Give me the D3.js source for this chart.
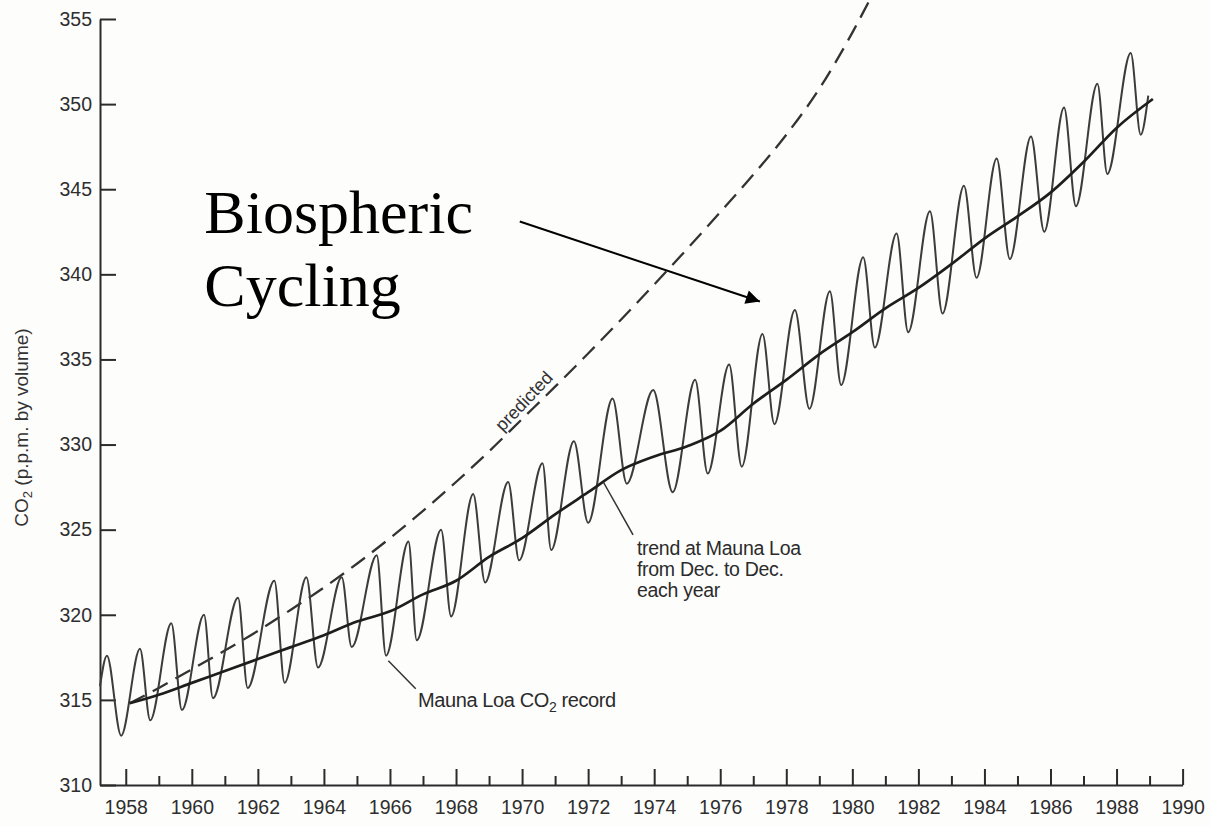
<!DOCTYPE html>
<html>
<head>
<meta charset="utf-8">
<script src="https://cdn.jsdelivr.net/npm/d3@7"></script>
<style>
  html, body { margin: 0; padding: 0; background: #fdfdfc; }
  svg { display: block; }
</style>
</head>
<body>
<svg id="chart" width="1211" height="826"></svg>
<script>
// Mauna Loa monthly CO2 record: opening point, then alternating seasonal maxima / minima, then closing point
const recordYears = [
  1957.22, 1957.43, 1957.86, 1958.43, 1958.74, 1959.38, 1959.70, 1960.37, 1960.64,
  1961.40, 1961.69, 1962.50, 1962.81, 1963.47, 1963.82, 1964.54, 1964.84,
  1965.60, 1965.88, 1966.56, 1966.81, 1967.55, 1967.85, 1968.52, 1968.88,
  1969.58, 1969.91, 1970.62, 1970.88, 1971.57, 1972.00, 1972.74, 1973.17,
  1973.97, 1974.56, 1975.24, 1975.62, 1976.27, 1976.65, 1977.28, 1977.64,
  1978.26, 1978.70, 1979.32, 1979.66, 1980.33, 1980.68, 1981.34, 1981.69,
  1982.35, 1982.73, 1983.38, 1983.76, 1984.37, 1984.77, 1985.41, 1985.81,
  1986.41, 1986.77, 1987.42, 1987.72, 1988.43, 1988.73, 1988.96
];
const recordCO2 = [
  315.8, 317.6, 312.9, 318.0, 313.8, 319.5, 314.4, 320.0, 315.1,
  321.0, 315.7, 322.0, 316.0, 322.2, 316.9, 322.2, 318.1,
  323.5, 317.6, 324.3, 318.5, 325.0, 319.9, 327.1, 321.9,
  327.8, 323.2, 328.9, 323.8, 330.2, 325.4, 332.7, 327.7,
  333.2, 327.2, 333.8, 328.3, 334.7, 328.7, 336.5, 331.2,
  337.9, 332.1, 339.0, 333.5, 341.0, 335.7, 342.4, 336.6,
  343.7, 337.7, 345.2, 339.8, 346.8, 340.9, 348.1, 342.5,
  349.8, 344.0, 351.2, 345.9, 353.0, 348.2, 350.5
];

// December-to-December trend
const trendYears = [
  1958.12, 1959, 1960, 1961, 1962, 1963, 1964, 1965, 1966, 1967, 1968, 1969,
  1970, 1971, 1972, 1973, 1974, 1975, 1976, 1977, 1978, 1979, 1980, 1981,
  1982, 1983, 1984, 1985, 1986, 1987, 1988, 1989.1
];
const trendCO2 = [
  314.8, 315.3, 316.0, 316.7, 317.4, 318.1, 318.8, 319.6, 320.2, 321.2, 322.0, 323.4,
  324.5, 325.9, 327.2, 328.5, 329.3, 329.9, 330.8, 332.4, 333.8, 335.3, 336.6, 338.0,
  339.2, 340.6, 342.1, 343.4, 344.8, 346.6, 348.6, 350.3
];

// Predicted concentration (dashed)
const predictedYears = [
  1958.12, 1959, 1960, 1961, 1962, 1963, 1964, 1965, 1966, 1967, 1968, 1969,
  1970, 1971, 1972, 1973, 1974, 1975, 1976, 1977, 1978, 1979, 1980, 1980.6
];
const predictedCO2 = [
  314.8, 315.7, 316.8, 317.9, 319.05, 320.3, 321.6, 323.0, 324.5, 326.1, 327.8, 329.6,
  331.5, 333.4, 335.35, 337.35, 339.4, 341.5, 343.65, 345.85, 348.2, 350.9, 354.2, 356.4
];

const majorYears = [1958, 1960, 1962, 1964, 1966, 1968, 1970, 1972, 1974,
                    1976, 1978, 1980, 1982, 1984, 1986, 1988, 1990];
const minorYears = [1959, 1961, 1963, 1965, 1967, 1969, 1971, 1973,
                    1975, 1977, 1979, 1981, 1983, 1985, 1987, 1989];
const co2Ticks = [310, 315, 320, 325, 330, 335, 340, 345, 350, 355];

const svg = d3.select("#chart");
const ink = "#2b2b2b";
const sans = "'Liberation Sans', Arial, Helvetica, sans-serif";

const x = d3.scaleLinear().domain([1957.22, 1990]).range([100, 1182.6]);
const y = d3.scaleLinear().domain([310, 355]).range([785, 19]);

// ---- axes ----
const yAxis = d3.axisLeft(y).tickValues(co2Ticks).tickSizeInner(-16).tickSizeOuter(0).tickPadding(8);
const gy = svg.append("g").attr("transform", `translate(${x.range()[0]},0)`).call(yAxis);

const xAxis = d3.axisBottom(x).tickValues(majorYears).tickFormat(d3.format("d"))
  .tickSizeInner(-16).tickSizeOuter(0).tickPadding(15);
const gx = svg.append("g").attr("transform", `translate(0,${y(310)})`).call(xAxis);

const xMinor = d3.axisBottom(x).tickValues(minorYears).tickFormat("").tickSizeInner(-9).tickSizeOuter(0);
const gxm = svg.append("g").attr("transform", `translate(0,${y(310)})`).call(xMinor);
gxm.select(".domain").remove();

[gy, gx, gxm].forEach(g => {
  g.selectAll(".domain, .tick line").attr("stroke", ink).attr("stroke-width", 2);
  g.selectAll(".tick text").attr("fill", "#2e2e2e").style("font-family", sans).style("font-size", "19.5px");
});

// y-axis title
const title = svg.append("text")
  .attr("transform", `translate(28,${y(331)}) rotate(-90)`)
  .attr("text-anchor", "middle")
  .attr("fill", "#333")
  .style("font-family", sans).style("font-size", "19px");
title.append("tspan").text("CO");
title.append("tspan").attr("dy", 4).style("font-size", "13px").text("2");
title.append("tspan").attr("dy", -4).text(" (p.p.m. by volume)");

// ---- data lines ----
const toPts = (xs, ys) => xs.map((d, i) => [d, ys[i]]);
const line = d3.line().x(d => x(d[0])).y(d => y(d[1])).curve(d3.curveMonotoneX);

svg.append("path")
  .datum(toPts(predictedYears, predictedCO2))
  .attr("d", line)
  .attr("fill", "none").attr("stroke", "#333").attr("stroke-width", 2.3)
  .attr("stroke-dasharray", "17,9");

svg.append("path")
  .datum(toPts(recordYears, recordCO2))
  .attr("d", line)
  .attr("fill", "none").attr("stroke", "#3c3c3c").attr("stroke-width", 2)
  .attr("stroke-linejoin", "round");

svg.append("path")
  .datum(toPts(trendYears, trendCO2))
  .attr("d", line)
  .attr("fill", "none").attr("stroke", "#1e1e1e").attr("stroke-width", 2.7);

// ---- annotations ----
svg.append("text")
  .attr("transform", `translate(${x(1970.19)},${y(332.3)}) rotate(-46.5)`)
  .attr("text-anchor", "middle")
  .attr("fill", "#333")
  .style("font-family", sans).style("font-size", "18px")
  .text("predicted");

// pointer: trend label
svg.append("line")
  .attr("x1", x(1972.46)).attr("y1", y(327.8))
  .attr("x2", x(1973.36)).attr("y2", y(324.7))
  .attr("stroke", "#333").attr("stroke-width", 1.5);

const trendLabel = svg.append("text")
  .attr("fill", "#2b2b2b")
  .style("font-family", sans).style("font-size", "19.5px").style("letter-spacing", "-0.3px");
["trend at Mauna Loa", "from Dec. to Dec.", "each year"].forEach((t, i) => {
  trendLabel.append("tspan").attr("x", x(1973.48)).attr("y", 555 + i * 21).text(t);
});

// pointer: record label
svg.append("line")
  .attr("x1", x(1965.95)).attr("y1", y(317.3))
  .attr("x2", x(1966.78)).attr("y2", y(315.65))
  .attr("stroke", "#333").attr("stroke-width", 1.5);

const recLabel = svg.append("text")
  .attr("x", x(1966.85)).attr("y", 707)
  .attr("fill", "#2b2b2b")
  .style("font-family", sans).style("font-size", "20px").style("letter-spacing", "-0.4px");
recLabel.append("tspan").text("Mauna Loa CO");
recLabel.append("tspan").attr("dy", 5).style("font-size", "14px").text("2");
recLabel.append("tspan").attr("dy", -5).text(" record");

// Biospheric cycling callout
const serif = "'Liberation Serif', 'Times New Roman', Times, serif";
svg.append("text").attr("x", x(1960.38)).attr("y", 233)
  .attr("fill", "#000").style("font-family", serif).style("font-size", "62px").text("Biospheric");
svg.append("text").attr("x", x(1960.38)).attr("y", 306)
  .attr("fill", "#000").style("font-family", serif).style("font-size", "62px").text("Cycling");

svg.append("defs").append("marker")
  .attr("id", "head").attr("viewBox", "0 0 10 10")
  .attr("refX", 10).attr("refY", 5)
  .attr("markerWidth", 17).attr("markerHeight", 14)
  .attr("markerUnits", "userSpaceOnUse")
  .attr("orient", "auto")
  .append("path").attr("d", "M0,0 L10,5 L0,10 Z").attr("fill", "#000");

svg.append("line")
  .attr("x1", x(1969.93)).attr("y1", y(343.1))
  .attr("x2", x(1977.2)).attr("y2", y(338.4))
  .attr("stroke", "#000").attr("stroke-width", 2)
  .attr("marker-end", "url(#head)");
</script>
</body>
</html>
